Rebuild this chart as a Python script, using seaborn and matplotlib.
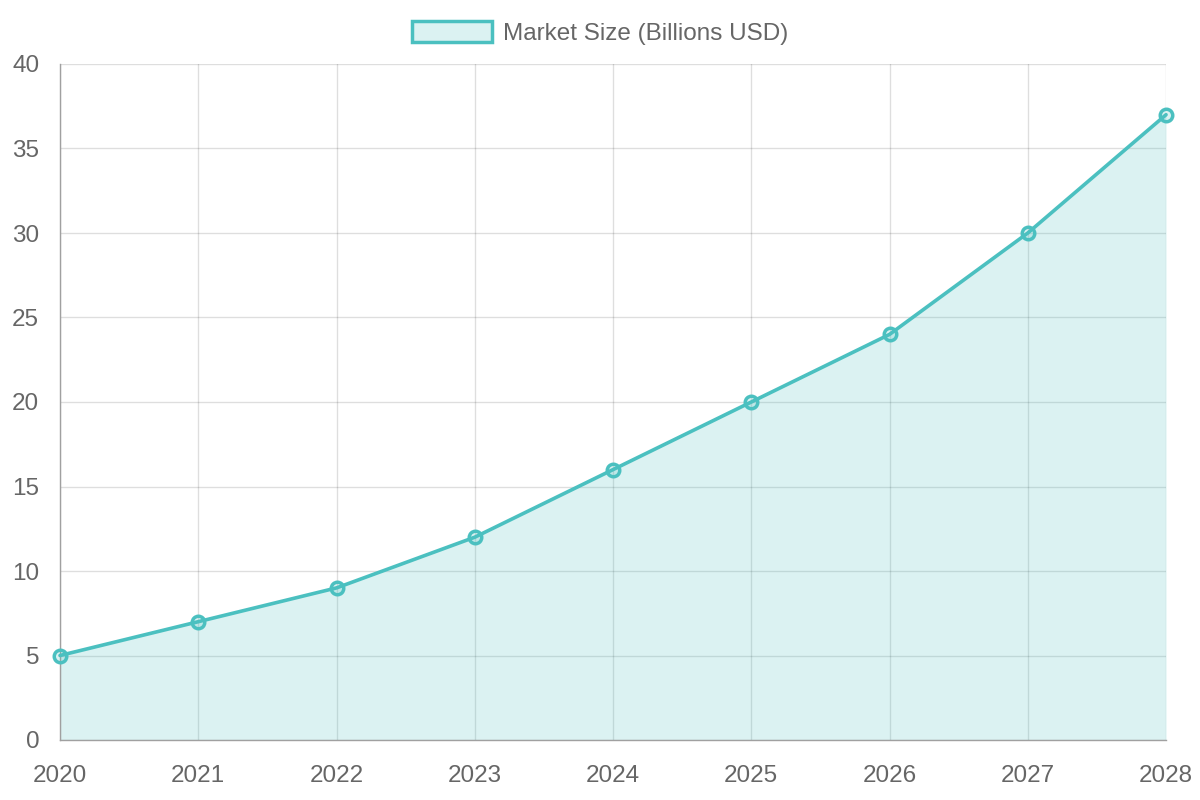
import numpy as np
import pandas as pd
import matplotlib
matplotlib.use("Agg")
import matplotlib.pyplot as plt
import seaborn as sns
from matplotlib.patches import Patch

# data
years = [2020, 2021, 2022, 2023, 2024, 2025, 2026, 2027, 2028]
market_size = [5, 7, 9, 12, 16, 20, 24, 30, 37]
series_label = "Market Size (Billions USD)"

df = pd.DataFrame({"year": years, "size": market_size})

# style
sns.set_style("white")
plt.rcParams["font.family"] = ["Liberation Sans", "DejaVu Sans"]

line_color = "#4bc0c0"
fill_color = (75 / 255, 192 / 255, 192 / 255, 0.2)
text_color = "#666666"

fig = plt.figure(figsize=(12, 8), dpi=100)
ax = fig.add_axes([0.05, 0.075, 0.9217, 0.845])

ax.fill_between(df["year"], df["size"], 0, color=fill_color, linewidth=0, zorder=1)
sns.lineplot(
    data=df, x="year", y="size", ax=ax,
    color=line_color, linewidth=2.6,
    marker="o", markersize=9, markeredgewidth=2.5,
    markerfacecolor=fill_color, markeredgecolor=line_color,
    zorder=3, clip_on=False,
)

ax.set_xlim(2020, 2028)
ax.set_ylim(0, 40)
ax.set_xticks(years)
ax.set_yticks(range(0, 45, 5))
ax.set_xlabel("")
ax.set_ylabel("")

ax.grid(True, color="black", alpha=0.13, linewidth=1, zorder=0)
ax.set_axisbelow(True)
ax.tick_params(axis="both", length=14, width=1, color="#dddddd",
               labelsize=17.5, labelcolor=text_color)
ax.tick_params(axis="x", pad=4)
ax.tick_params(axis="y", pad=1)

for side in ["top", "right"]:
    ax.spines[side].set_visible(False)
for side in ["left", "bottom"]:
    ax.spines[side].set_color("#a0a0a0")
    ax.spines[side].set_linewidth(1)

# legend at top
handle = Patch(facecolor=fill_color, edgecolor=line_color, linewidth=2.5)
fig.legend(
    [handle], [series_label],
    loc="center", bbox_to_anchor=(0.5, 0.959),
    frameon=False, fontsize=17.5, labelcolor=text_color,
    handlelength=3.3, handleheight=1.0, handletextpad=0.45,
)

fig.savefig("out.png", dpi=100)
